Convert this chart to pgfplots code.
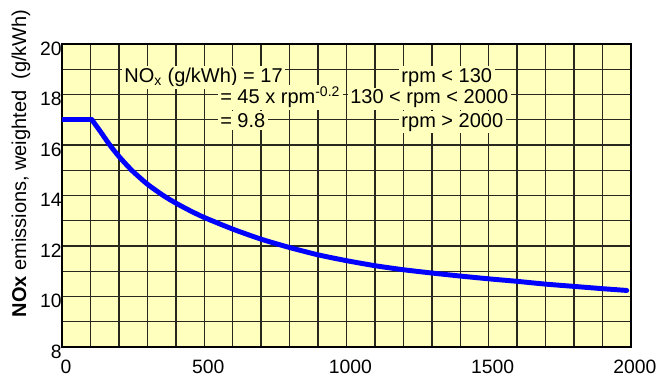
\documentclass[border=0pt]{standalone}
\usepackage{fontspec}
\setmainfont{Liberation Sans}
\usepackage{pgfplots}
\pgfplotsset{compat=1.18}
\definecolor{bgyel}{RGB}{255,255,190}
\definecolor{gridc}{RGB}{40,40,30}
\tikzset{ann/.style={fill=bgyel, inner xsep=2pt, inner ysep=1.5pt, font=\fontsize{15}{18}\selectfont}}
\begin{document}
\begin{tikzpicture}
\useasboundingbox (-46.5pt,-21.75pt) rectangle (446.25pt,260.25pt);
\begin{axis}[
  scale only axis,
  width=426.75pt, height=227.25pt,
  xmin=0, xmax=2000, ymin=8, ymax=20,
  xtick={0,500,...,2000},
  minor x tick num=4,
  ytick={8,10,...,20},
  minor y tick num=1,
  grid=both,
  major grid style={gridc, line width=1.1pt},
  minor grid style={gridc, line width=1.1pt},
  major tick length=0pt, minor tick length=0pt,
  axis line style={black, line width=1.2pt},
  axis background/.style={fill=bgyel},
  /pgf/number format/assume math mode=true,
  /pgf/number format/1000 sep={},
  ticklabel style={font=\fontsize{14.5}{17}\selectfont},
  xticklabel style={xshift=3pt, yshift=-6pt},
  yticklabel style={xshift=3.3pt, yshift=-3.5pt},
  ylabel={\textbf{NOx} emissions, weighted\ \ (g/kWh)},
  ylabel style={font=\fontsize{15}{18}\selectfont, at={(axis description cs:-0.072,0.606)}, anchor=center},
]
\addplot[blue, line width=3.7pt, line cap=round] coordinates {(0,17) (105,17)};
\addplot[blue, line width=3.7pt, line join=round, line cap=round, smooth, tension=0.4] coordinates {
(105,17) (134,16.55) (168,16.0) (200,15.55) (245,15.0) (300,14.45)
(356,14.0) (400,13.7) (450,13.4) (500,13.13) (600,12.67) (700,12.27)
(800,11.94) (900,11.65) (1000,11.42) (1100,11.22) (1200,11.06) (1300,10.93)
(1400,10.81) (1500,10.7) (1600,10.6) (1700,10.49) (1800,10.4) (1900,10.31)
(1985,10.24)
};
\node[ann, anchor=base west] at (axis cs:209,18.48) {NO\textsubscript{x} (g/kWh) = 17};
\node[ann, anchor=base west] at (axis cs:546,17.64) {= 45 x rpm\textsuperscript{-0.2}};
\node[ann, anchor=base west] at (axis cs:546,16.7) {= 9.8};
\node[ann, anchor=base west] at (axis cs:1183,18.48) {rpm < 130};
\node[ann, anchor=base west] at (axis cs:1003,17.64) {130 < rpm < 2000};
\node[ann, anchor=base west] at (axis cs:1183,16.7) {rpm > 2000};
\end{axis}
\end{tikzpicture}
\end{document}
